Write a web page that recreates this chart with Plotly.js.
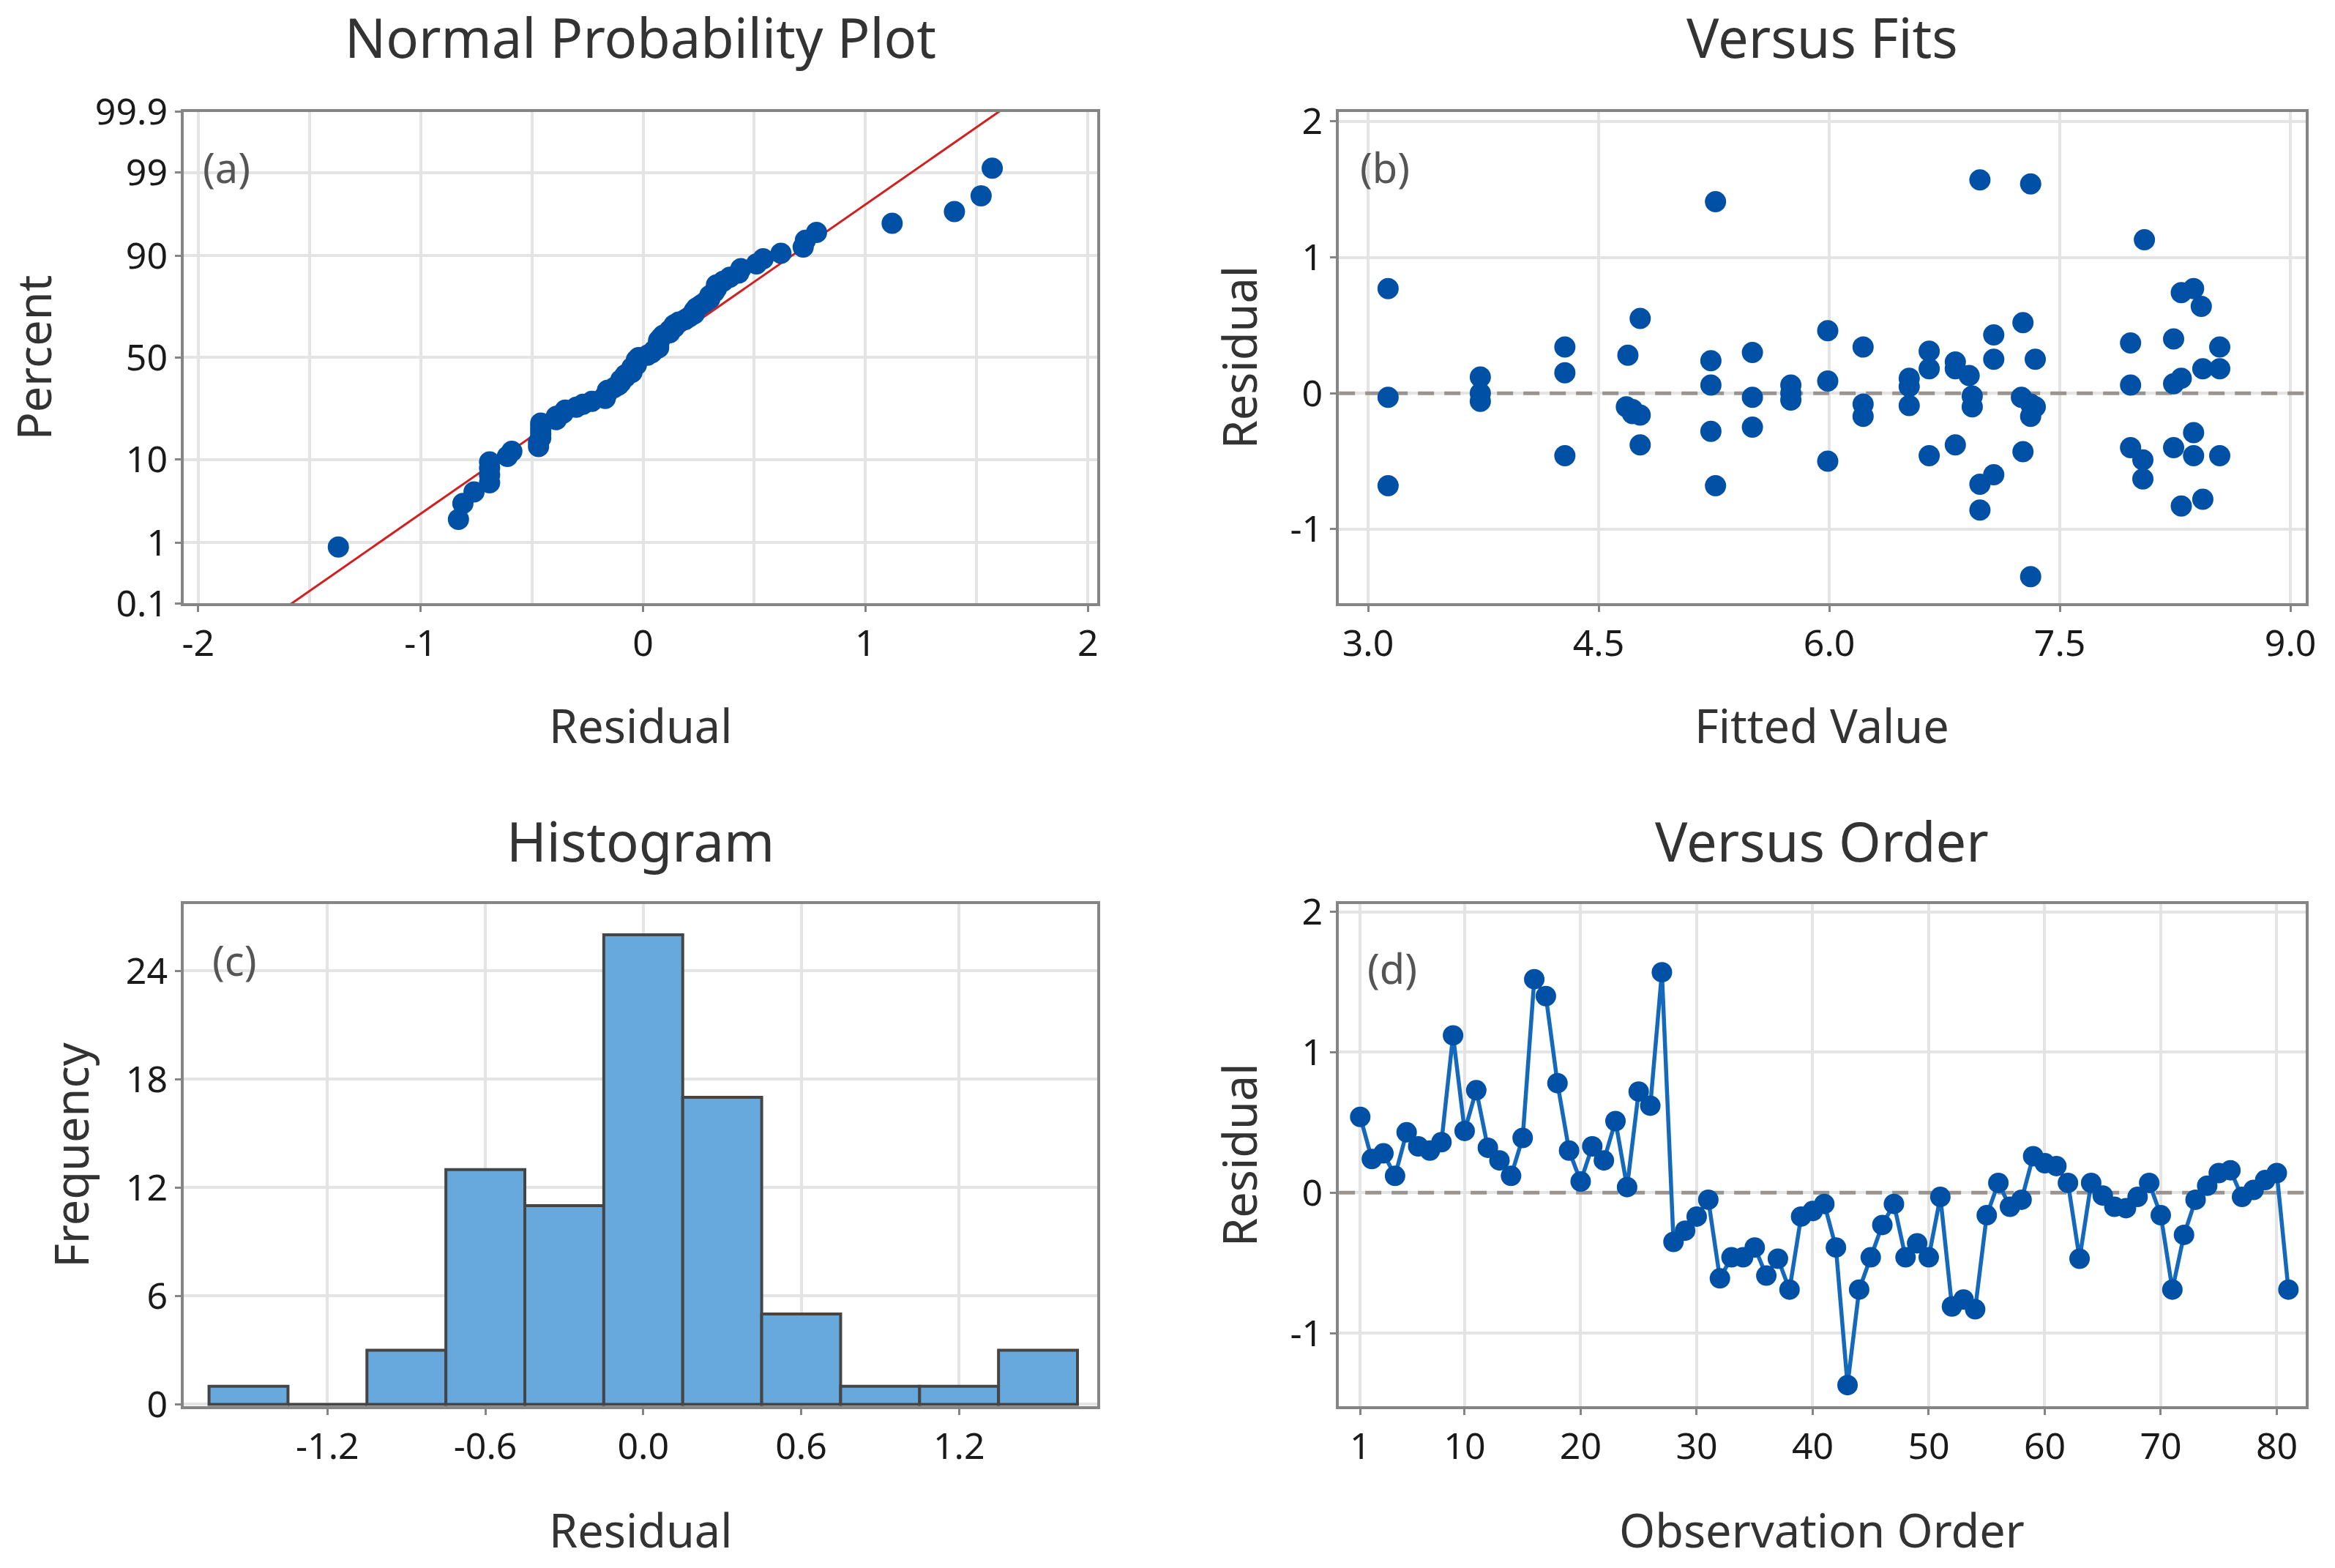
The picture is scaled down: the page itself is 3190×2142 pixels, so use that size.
<!DOCTYPE html>
<html>
<head>
<meta charset="utf-8">
<script src="https://cdn.plot.ly/plotly-3.0.1.min.js"></script>
<style>
html,body{margin:0;padding:0;background:#fff;}
#chart{width:3190px;height:2142px;}
</style>
</head>
<body>
<div id="chart"></div>
<script>
// ---------- DATA ----------
// Residuals in observation order (1..81)
const orderResid = [0.54,0.24,0.28,0.12,0.43,0.33,0.30,0.36,1.12,0.44,
  0.73,0.32,0.23,0.12,0.39,1.52,1.40,0.78,0.30,0.08,
  0.33,0.23,0.51,0.04,0.72,0.62,1.57,-0.35,-0.27,-0.17,
  -0.05,-0.61,-0.46,-0.46,-0.39,-0.59,-0.47,-0.69,-0.17,-0.13,
  -0.08,-0.39,-1.37,-0.69,-0.46,-0.23,-0.08,-0.46,-0.36,-0.46,
  -0.03,-0.81,-0.76,-0.83,-0.16,0.07,-0.10,-0.05,0.26,0.21,
  0.19,0.07,-0.47,0.07,-0.02,-0.10,-0.11,-0.03,0.07,-0.16,
  -0.69,-0.30,-0.05,0.05,0.14,0.16,-0.03,0.02,0.09,0.14,-0.69];

// Versus fits
const fitsX = [3.13,3.13,3.13, 3.73,3.73,3.73, 4.28,4.28,4.28,
  4.77,4.69,4.68,4.72,4.72,4.77,4.77, 5.26,5.23,5.23,5.23,5.26,
  5.50,5.50,5.50, 5.75,5.75,5.75, 5.99,5.99,5.99, 6.22,6.22,6.22,
  6.52,6.52,6.52, 6.65,6.65,6.65, 6.82,6.82,6.91, 6.93,6.93, 6.82,
  6.98, 7.07,7.07, 6.98,7.07, 6.98, 7.26, 7.34, 7.25,7.31,7.34,7.31,
  7.26, 7.31, 7.31, 8.05, 7.96,7.96,7.96, 8.04,8.04, 8.29,8.37,8.42,
  8.24, 8.24,8.29,8.43, 8.54,8.54, 8.37, 8.24, 8.37, 8.54, 8.29, 8.43];
const fitsResid = [0.77,-0.03,-0.68, 0.12,0.00,-0.06, 0.34,0.15,-0.46,
  0.55,0.28,-0.10,-0.12,-0.15,-0.16,-0.38, 1.41,0.24,0.06,-0.28,-0.68,
  0.30,-0.03,-0.25, 0.06,0.00,-0.05, 0.46,0.09,-0.50, 0.34,-0.08,-0.17,
  0.11,0.05,-0.09, 0.31,0.18,-0.46, 0.23,0.18,0.13, -0.02,-0.10, -0.38,
  1.57, 0.43,0.25, -0.67,-0.60, -0.86, 0.52, 0.25, -0.03,-0.08,-0.10,-0.17,
  -0.43, 1.54, -1.35, 1.13, 0.37,0.06,-0.40, -0.49,-0.63, 0.74,0.77,0.64,
  0.40, 0.07,0.11,0.18, 0.34,0.18, -0.29, -0.40, -0.46, -0.46, -0.83, -0.78];

// Histogram
const binCenters = [-1.5,-1.2,-0.9,-0.6,-0.3,0.0,0.3,0.6,0.9,1.2,1.5];
const binCounts  = [1,0,3,13,11,26,17,5,1,1,3];

// Tick labels
const probTickPct = [0.1,1,10,50,90,99,99.9];
const probTickText = ["0.1","1","10","50","90","99","99.9"];
const npXTicks = [-2,-1,0,1,2];
const npXText = ["-2","-1","0","1","2"];
const fitsXTicks = [3.0,4.5,6.0,7.5,9.0];
const fitsXText = ["3.0","4.5","6.0","7.5","9.0"];
const residTicks = [-1,0,1,2];
const residText = ["-1","0","1","2"];
const histXTicks = [-1.2,-0.6,0.0,0.6,1.2];
const histXText = ["-1.2","-0.6","0.0","0.6","1.2"];
const histYTicks = [0,6,12,18,24];
const histYText = ["0","6","12","18","24"];
const orderTicks = [1,10,20,30,40,50,60,70,80];
const orderText = ["1","10","20","30","40","50","60","70","80"];

// Axis ranges
const npXRange = [-2.065,2.042];
const fitsXRange = [2.81,9.10];
const fitsYRange = [-1.545,2.07];
const histXRange = [-1.746,1.725];
const histYRange = [-0.1,27.7];
const orderXRange = [-0.84,82.5];
const orderYRange = [-1.52,2.055];
const refLevel = 0;

// ---------- helpers ----------
function invNorm(p){
  const a=[-3.969683028665376e+01,2.209460984245205e+02,-2.759285104469687e+02,1.383577518672690e+02,-3.066479806614716e+01,2.506628277459239e+00];
  const b=[-5.447609879822406e+01,1.615858368580409e+02,-1.556989798598866e+02,6.680131188771972e+01,-1.328068155288572e+01];
  const c=[-7.784894002430293e-03,-3.223964580411365e-01,-2.400758277161838e+00,-2.549671010115819e+00,4.374664141464968e+00,2.938163982698783e+00];
  const d=[7.784695709041462e-03,3.224671290700398e-01,2.445134137142996e+00,3.754408661907416e+00];
  const pl=0.02425, ph=1-pl; let q,r;
  if(p<pl){q=Math.sqrt(-2*Math.log(p));return (((((c[0]*q+c[1])*q+c[2])*q+c[3])*q+c[4])*q+c[5])/((((d[0]*q+d[1])*q+d[2])*q+d[3])*q+1);}
  if(p>ph){q=Math.sqrt(-2*Math.log(1-p));return -(((((c[0]*q+c[1])*q+c[2])*q+c[3])*q+c[4])*q+c[5])/((((d[0]*q+d[1])*q+d[2])*q+d[3])*q+1);}
  q=p-0.5;r=q*q;return (((((a[0]*r+a[1])*r+a[2])*r+a[3])*r+a[4])*r+a[5])*q/(((((b[0]*r+b[1])*r+b[2])*r+b[3])*r+b[4])*r+1);
}
const n = orderResid.length;
const sorted = orderResid.slice().sort((u,v)=>u-v);
const npZ = sorted.map((v,i)=>invNorm((i+1-0.3)/(n+0.4)));
const mean = orderResid.reduce((s,v)=>s+v,0)/n;
const sd = Math.sqrt(orderResid.reduce((s,v)=>s+(v-mean)*(v-mean),0)/(n-1));
const zLo = invNorm(0.001), zHi = invNorm(0.999);
const fitLineZ = [zLo*1.05, zHi*1.05];
const fitLineX = fitLineZ.map(z=>mean+sd*z);
const probTickZ = probTickPct.map(p=>invNorm(p/100));
const obsIdx = orderResid.map((v,i)=>i+1);

// ---------- style ----------
const W=3190,H=2142;
const FONT="Noto Sans, Open Sans, sans-serif";
const BLUE="#0050a6";
const GRID="#e4e4e4";
const FRAME="#858585";
const DASH={color:"#9a9490",width:5,dash:"22px,14px"};
function ax(extra){
  return Object.assign({
    showgrid:true, gridcolor:GRID, gridwidth:4,
    showline:true, linecolor:FRAME, linewidth:4, mirror:true,
    ticks:"outside", ticklen:8, tickwidth:3, tickcolor:FRAME,
    tickfont:{family:FONT,size:50,color:"#1a1a1a"},
    zeroline:false, tickmode:"array", fixedrange:true
  }, extra);
}
const xa=[0.0787,0.4699], xb=[0.5734,0.9875];
const yt=[0.6153,0.9286], yb=[0.1032,0.4234];

const traces=[
  {type:"scatter",mode:"lines",x:fitLineX,y:fitLineZ,xaxis:"x",yaxis:"y",
   line:{color:"#d02020",width:3},hoverinfo:"skip",cliponaxis:true},
  {type:"scatter",mode:"markers",x:sorted,y:npZ,xaxis:"x",yaxis:"y",
   marker:{color:BLUE,size:29}},
  {type:"scatter",mode:"lines",x:fitsXRange,y:[refLevel,refLevel],xaxis:"x2",yaxis:"y2",
   line:DASH,hoverinfo:"skip"},
  {type:"scatter",mode:"markers",x:fitsX,y:fitsResid,xaxis:"x2",yaxis:"y2",
   marker:{color:BLUE,size:29}},
  {type:"bar",x:binCenters,y:binCounts,width:0.3,xaxis:"x3",yaxis:"y3",
   marker:{color:"#68a9dd",line:{color:"#454545",width:4}}},
  {type:"scatter",mode:"lines",x:orderXRange,y:[refLevel,refLevel],xaxis:"x4",yaxis:"y4",
   line:DASH,hoverinfo:"skip"},
  {type:"scatter",mode:"lines+markers",x:obsIdx,y:orderResid,xaxis:"x4",yaxis:"y4",
   line:{color:"#1469bd",width:5.5},marker:{color:BLUE,size:28}}
];

function ann(text,x,y,size,color,angle){
  return {text:text,x:x,y:y,xref:"paper",yref:"paper",showarrow:false,
    xanchor:"center",yanchor:"middle",textangle:angle||0,
    font:{family:FONT,size:size,color:color||"#333"}};
}

const layout={
  width:W,height:H,margin:{l:0,r:0,t:0,b:0},
  paper_bgcolor:"#fff",plot_bgcolor:"#fff",showlegend:false,bargap:0,
  xaxis:ax({domain:xa,anchor:"y",range:npXRange,tickvals:npXTicks,ticktext:npXText,
    minor:{dtick:0.5,tick0:0,showgrid:true,gridcolor:GRID,gridwidth:4,ticks:""}}),
  yaxis:ax({domain:yt,anchor:"x",range:[zLo,zHi],tickvals:probTickZ,ticktext:probTickText}),
  xaxis2:ax({domain:xb,anchor:"y2",range:fitsXRange,tickvals:fitsXTicks,ticktext:fitsXText}),
  yaxis2:ax({domain:yt,anchor:"x2",range:fitsYRange,tickvals:residTicks,ticktext:residText}),
  xaxis3:ax({domain:xa,anchor:"y3",range:histXRange,tickvals:histXTicks,ticktext:histXText}),
  yaxis3:ax({domain:yb,anchor:"x3",range:histYRange,tickvals:histYTicks,ticktext:histYText}),
  xaxis4:ax({domain:xb,anchor:"y4",range:orderXRange,tickvals:orderTicks,ticktext:orderText}),
  yaxis4:ax({domain:yb,anchor:"x4",range:orderYRange,tickvals:residTicks,ticktext:residText}),
  annotations:[
    ann("Normal Probability Plot",0.2743,0.9762,74),
    ann("Versus Fits",0.7804,0.9762,74),
    ann("Histogram",0.2743,0.4636,74),
    ann("Versus Order",0.7804,0.4636,74),
    ann("Residual",0.2743,0.5374,63),
    ann("Fitted Value",0.7804,0.5374,63),
    ann("Residual",0.2743,0.0247,63),
    ann("Observation Order",0.7804,0.0247,63),
    ann("Percent",0.0141,0.772,63,"#333",-90),
    ann("Residual",0.5304,0.772,63,"#333",-90),
    ann("Frequency",0.0300,0.2633,63,"#333",-90),
    ann("Residual",0.5304,0.2633,63,"#333",-90),
    ann("(a)",0.0969,0.8936,56,"#555"),
    ann("(b)",0.5931,0.8936,56,"#555"),
    ann("(c)",0.1003,0.3880,56,"#555"),
    ann("(d)",0.5962,0.3828,56,"#555")
  ]
};
Plotly.newPlot("chart",traces,layout,{staticPlot:true,displayModeBar:false});
</script>
</body>
</html>
